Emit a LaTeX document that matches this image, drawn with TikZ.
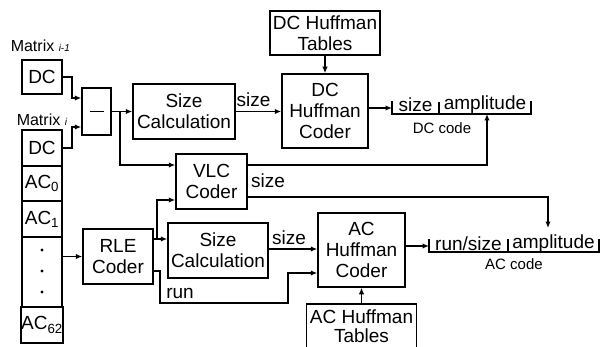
\documentclass[tikz,border=0pt]{standalone}
\usepackage{fontspec}
\setmainfont{Liberation Sans}
\usetikzlibrary{arrows.meta}
\begin{document}
\begin{tikzpicture}[x=1pt,y=-1pt, line width=1.5pt,
  font=\fontsize{19}{21}\selectfont,
  box/.style={draw, inner sep=0pt, align=center},
  arr/.style={-{Latex[length=6.5pt,width=5.5pt]}},
  small/.style={font=\fontsize{15}{17}\selectfont, inner sep=0pt},
  lbl/.style={inner sep=0pt}]
\useasboundingbox (0,0) rectangle (604,347);
% left column
\node[lbl, anchor=west, font=\fontsize{16}{18}\selectfont] (mA) at (10,46) {Matrix {\fontsize{10}{10}\selectfont\itshape i-1}};
\node[lbl, anchor=west, font=\fontsize{16}{18}\selectfont] (mB) at (16,120) {Matrix {\fontsize{10}{10}\selectfont\itshape i}};
\node[box, minimum width=40pt, minimum height=34pt] (dcA) at (42,77) {DC};
\node[box, minimum width=40pt, minimum height=36pt] (dcB) at (42,148) {DC};
\node[box, minimum width=40pt, minimum height=35pt] (ac0) at (42,183.5) {AC\textsubscript{0}};
\node[box, minimum width=40pt, minimum height=36pt] (ac1) at (42,219) {AC\textsubscript{1}};
\node[box, minimum width=40pt, minimum height=70pt] (dots) at (42,272) {};
\node[box, minimum width=40pt, minimum height=36pt] (ac62) at (42,325) {AC\textsubscript{62}};
\foreach \yy in {250,271,292} \fill (42,\yy) circle (1.6pt);
% processing boxes
\node[box, minimum width=29pt, minimum height=47pt] (minus) at (96.5,111.5) {};
\draw (minus.center) +(-7,0) -- +(7,0);
\node[box, minimum width=102pt, minimum height=55pt] (sc1) at (184,111.5) {Size\\Calculation};
\node[box, minimum width=110pt, minimum height=44pt] (dcht) at (325,33) {DC Huffman\\Tables};
\node[box, minimum width=86pt, minimum height=74pt] (dchc) at (325,111) {DC\\Huffman\\Coder};
\node[box, minimum width=71pt, minimum height=55pt] (vlc) at (211.5,181.5) {VLC\\Coder};
\node[box, minimum width=70pt, minimum height=55pt] (rle) at (118,256.5) {RLE\\Coder};
\node[box, minimum width=100pt, minimum height=55pt] (sc2) at (218,250.5) {Size\\Calculation};
\node[box, minimum width=87pt, minimum height=74pt] (achc) at (361.5,250) {AC\\Huffman\\Coder};
\node[box, minimum width=110pt, minimum height=45pt, font=\fontsize{19}{19}\selectfont] (acht) at (361.5,326.5) {AC Huffman\\Tables};
% DC code bracket
\coordinate (dcin) at (392,108);
\coordinate (dcup) at (487,114);
\draw (392,101) -- (392,114) -- (531,114) -- (531,101);
\draw (439,102) -- (439,114);
\node[lbl] (dcs) at (415.5,105) {size};
\node[lbl] (dca) at (485,105) {amplitude};
\node[small] (dccode) at (442,128) {DC code};
% AC code bracket
\coordinate (acin) at (429,246);
\coordinate (acdown) at (548,228);
\draw (429,239) -- (429,252) -- (599,252) -- (599,239);
\draw (508,239) -- (508,252);
\node[lbl] (acs) at (468.5,244) {run/size};
\node[lbl] (aca) at (553.5,244) {amplitude};
\node[small] (accode) at (514,264) {AC code};
% connectors
\draw[arr] (dcA.east) -- (72,77) |- (minus.west |- 0,98);
\draw[arr] (dcB.east) -- (72,148) |- (minus.west |- 0,127);
\draw[arr] (minus.east) -- (sc1.west);
\draw[arr] (120,111.5) |- (vlc.west |- 0,165);
\draw[arr] (sc1.east) -- (dchc.west |- sc1.east);
\node[lbl] (s1) at (253.5,100) {size};
\draw[arr] (dcht) -- (dchc);
\draw[arr] (dchc.east |- dcin) -- (dcin);
\draw[arr] (vlc.east |- 0,165) -| (dcup);
\draw[arr] (vlc.east |- 0,197) -| (acdown);
\node[lbl] (s2) at (268,181) {size};
\draw[arr] (dots.east |- rle.west) -- (rle.west);
\draw[arr] (rle.east |- 0,239) -- (sc2.west |- 0,239);
\draw[arr] (157,239) |- (vlc.west |- 0,200);
\draw[arr] (rle.east |- 0,271) -- (160,271) |- (288,303) |- (achc.west |- 0,273);
\node[lbl] (run) at (180,293) {run};
\draw[arr] (sc2.east |- 0,249) -- (achc.west |- 0,249);
\node[lbl] (s3) at (289,238) {size};
\draw[arr] (acht) -- (achc);
\draw[arr] (achc.east |- acin) -- (acin);
\end{tikzpicture}
\end{document}
